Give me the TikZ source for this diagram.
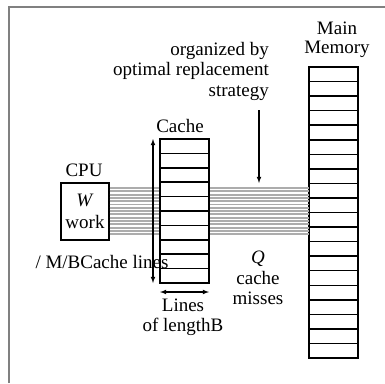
\documentclass[tikz,border=0pt]{standalone}
\usepackage{fontspec}
\setmainfont{Liberation Serif}
\usetikzlibrary{calc}

\begin{document}
\fontsize{19}{20.5}\selectfont
\begin{tikzpicture}[x=1pt, y=-1pt, >=latex,
    cell/.style={draw, line width=1.5pt, fill=white, minimum width=49pt, inner sep=0pt, outer sep=0pt},
    txt/.style={inner sep=0pt, align=center}]
    \useasboundingbox (0,0) rectangle (385,383);
    % frame
    \draw[gray, line width=1.5pt] (9,383) -- (9,7) -- (385,7);

    \node[draw, line width=1.3pt, fill=white, minimum width=48pt, minimum height=57pt, txt] (cpu) at (85,211.5) {
        \textit{W}\\[1pt]
        work
    };
    \node[txt] (cpulabel) at (84,170) {CPU};

    % main memory
    \foreach \i in {0,...,19}
        \node[cell, minimum height=14.55pt] (m\i) at (333.5,{74.3+14.55*\i}) {};
    \node[txt, font=\fontsize{19}{18.5}\selectfont] (memlabel) at (337,40) {Main\\Memory};

    % transfer lines
    \foreach \k in {0,...,14}
        \draw[gray!65, line width=1.9pt] ($(cpu.east)+(0,{3.3*\k-23.5})$) -- ($(m0.west |- cpu.east)+(0,{3.3*\k-23.5})$);

    % cache
    \foreach \i in {0,...,9}
        \node[cell, minimum height=14.4pt] (c\i) at (184.5,{146.2+14.4*\i}) {};
    \node[txt] (cachelabel) at (180,126) {Cache};

    \draw[<->, line width=1.1pt] ([xshift=-7pt]c0.north west) -- ([xshift=-7pt]c9.south west);
    \node[txt] (size) at (102,261.5) {/ M/BCache lines};

    \draw[<->, line width=1.1pt] ([yshift=-9pt]c9.south west) -- ([yshift=-9pt]c9.south east);
    \node[txt] (linelabel) at (183,317.5) {Lines\\of lengthB};

    \node[txt, align=right, anchor=east] (strategy) at (269,71) {
        organized by\\
        optimal replacement\\
        strategy
    };
    \coordinate (strat) at (259,110);
    \coordinate (flow) at (259,183);
    \draw[->, line width=1.1pt] (strat) -- (flow);

    \node[txt] (misses) at (258,278) {\textit{Q}\\cache\\misses};
\end{tikzpicture}
\end{document}
